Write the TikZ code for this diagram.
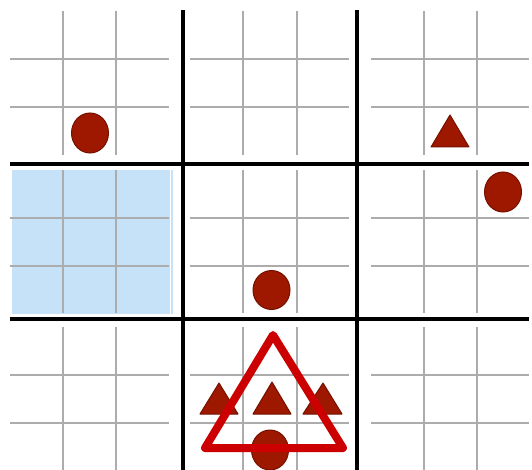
\documentclass[tikz,border=0pt]{standalone}
\begin{document}
\begin{tikzpicture}[x=1pt,y=-1pt,
  thin grid/.style={draw=gray!65,line width=1.3pt},
  thick grid/.style={draw=black,line width=4.6pt},
  token/.style={fill=tokred,draw=tokedge,line width=1pt},
  bigtri/.style={draw=bigred,line width=8pt,line join=round}]
\definecolor{tokred}{HTML}{9E1800}
\definecolor{tokedge}{HTML}{741000}
\definecolor{bigred}{HTML}{CC0000}
\definecolor{lightblue}{HTML}{C6E2F8}
\useasboundingbox (0,0) rectangle (532,470);
\fill[white] (0,0) rectangle (532,470);
% blue block
\fill[lightblue] (12,170) rectangle (173,314);
\draw[white,line width=1pt] (170,170) -- (170,314);
% thin grids
\foreach \xa/\xb/\xc/\xd in {10/63/116/169,190/243/297/349,371/424/477/529}{
  \foreach \ya/\yb/\yc/\yd in {11/59/107/155,170/218/266/313,327/375/423/470}{
    \draw[thin grid] (\xb,\ya) -- (\xb,\yd);
    \draw[thin grid] (\xc,\ya) -- (\xc,\yd);
    \draw[thin grid] (\xa,\yb) -- (\xd,\yb);
    \draw[thin grid] (\xa,\yc) -- (\xd,\yc);
  }
}
% thick grid
\draw[thick grid] (183,10) -- (183,470);
\draw[thick grid] (357,10) -- (357,470);
\draw[thick grid] (10,164) -- (529,164);
\draw[thick grid] (10,319) -- (529,319);
% tokens
\draw[token] (90,133) ellipse [x radius=18.5,y radius=20];
\draw[token] (503,192) ellipse [x radius=18.5,y radius=20];
\draw[token] (271.5,290) ellipse [x radius=18.5,y radius=19.5];
\draw[token] (270,450) ellipse [x radius=18.5,y radius=20];
\draw[token,line join=round] (431,147) -- (450,115) -- (469,147) -- cycle;
\draw[token,line join=round] (200,414) -- (219,383) -- (238,414) -- cycle;
\draw[token,line join=round] (253,414) -- (272,382) -- (291,414) -- cycle;
\draw[token,line join=round] (303,414) -- (323,383) -- (342,414) -- cycle;
% big triangle
\draw[bigtri] (205,448) -- (273,335) -- (343,448) -- cycle;
\end{tikzpicture}
\end{document}
